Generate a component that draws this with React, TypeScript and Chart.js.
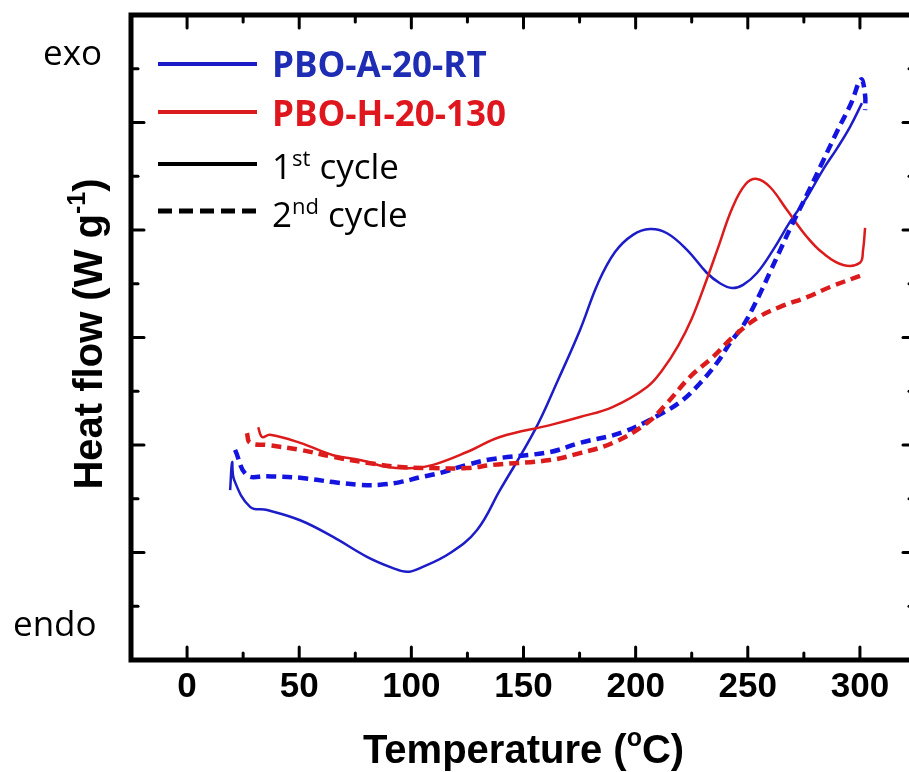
import React, { useEffect, useRef } from 'react';
import { Chart, registerables } from 'chart.js';

Chart.register(...registerables);

// ---- Data ----
const blueSolidT = [19.2, 20.1, 21.0, 28.1, 35.7, 50.4, 65.1, 80.2, 91.8, 98.1, 103.9, 117.3, 129.3, 139.5, 155.1, 165.4, 175.2, 183.2, 190.8, 198.8, 206.4, 214.0, 222.9, 231.8, 237.6, 243.0, 247.9, 254.1, 261.3, 268.8, 276.4, 283.5, 289.8, 295.6, 300.9];
const blueSolidHF = [3.16, 3.68, 3.35, 2.85, 2.79, 2.60, 2.29, 1.92, 1.71, 1.64, 1.71, 1.99, 2.42, 3.16, 4.28, 5.21, 6.14, 7.01, 7.59, 7.91, 8.02, 7.94, 7.63, 7.20, 7.01, 6.92, 6.98, 7.20, 7.63, 8.15, 8.61, 9.12, 9.52, 9.92, 10.36];

const blueDashT = [21.4, 26.7, 35.7, 50.4, 65.1, 77.1, 86.0, 95.0, 103.9, 112.8, 124.8, 136.4, 161.8, 175.2, 194.4, 212.2, 221.1, 228.7, 236.3, 242.1, 247.9, 252.3, 256.4, 260.4, 264.6, 269.0, 276.4, 283.5, 290.0, 296.0, 300.5, 302.3, 302.3];
const blueDashHF = [3.91, 3.44, 3.42, 3.39, 3.31, 3.26, 3.26, 3.31, 3.40, 3.48, 3.63, 3.74, 3.87, 4.04, 4.24, 4.60, 4.84, 5.15, 5.53, 5.90, 6.22, 6.55, 6.90, 7.26, 7.64, 8.04, 8.66, 9.28, 9.85, 10.35, 10.80, 10.51, 10.23];

const redSolidT = [31.7, 33.4, 37.0, 50.4, 65.1, 77.1, 89.2, 100.8, 109.7, 124.8, 139.5, 161.8, 175.2, 189.9, 205.1, 212.0, 219.0, 225.0, 231.0, 237.0, 243.0, 249.0, 254.1, 259.9, 267.5, 276.4, 283.5, 292.5, 300.0, 301.4, 302.3];
const redSolidHF = [4.33, 4.15, 4.19, 4.04, 3.81, 3.72, 3.59, 3.57, 3.63, 3.87, 4.15, 4.37, 4.52, 4.71, 5.08, 5.40, 5.85, 6.35, 7.00, 7.70, 8.40, 8.85, 8.95, 8.80, 8.37, 7.87, 7.57, 7.35, 7.39, 7.63, 8.04];

const redDashT = [26.7, 28.1, 35.7, 50.4, 65.1, 80.2, 95.0, 109.7, 124.8, 136.4, 161.8, 175.2, 189.9, 205.1, 214.0, 224.3, 234.5, 243.4, 254.1, 264.4, 276.4, 286.7, 300.9];
const redDashHF = [4.22, 4.04, 4.00, 3.91, 3.78, 3.67, 3.59, 3.57, 3.57, 3.63, 3.72, 3.85, 4.04, 4.41, 4.78, 5.27, 5.64, 6.01, 6.36, 6.57, 6.75, 6.94, 7.16];

const xMajorTicks = [0, 50, 100, 150, 200, 250, 300];
const xMinorTicks = [25, 75, 125, 175, 225, 275];
const yMajorTicks = [2, 4, 6, 8, 10];
const yMinorTicks = [1, 3, 5, 7, 9, 11];

const seriesNames = ['PBO-A-20-RT', 'PBO-H-20-130'];
const BLUE = '#1c1cc8';
const BLUE_DASH = '#1414e0';
const RED = '#dc1c1c';
const BLUE_TEXT = '#1f2db4';
const RED_TEXT = '#e0161e';

const toPts = (xs: number[], ys: number[]) => xs.map((x, i) => ({ x, y: ys[i] }));

type Seg = { t: string; font: string; dy?: number };

function drawRich(ctx: CanvasRenderingContext2D, segs: Seg[], x: number, y: number, center: boolean) {
  const widths = segs.map((s) => {
    ctx.font = s.font;
    return ctx.measureText(s.t).width;
  });
  const total = widths.reduce((a, b) => a + b, 0);
  let cx = center ? x - total / 2 : x;
  ctx.textAlign = 'left';
  ctx.textBaseline = 'alphabetic';
  segs.forEach((s, i) => {
    ctx.font = s.font;
    ctx.fillText(s.t, cx, y + (s.dy || 0));
    cx += widths[i];
  });
}

const framePlugin = {
  id: 'framePlugin',
  afterDatasetsDraw(chart: any) {
    const ctx: CanvasRenderingContext2D = chart.ctx;
    const { left, right, top, bottom } = chart.chartArea;
    const xs = chart.scales.x;
    const ys = chart.scales.y;
    ctx.save();
    // frame
    ctx.strokeStyle = '#000';
    ctx.lineWidth = 5;
    ctx.strokeRect(left, top, right - left, bottom - top);
    // ticks (inward)
    ctx.lineWidth = 3;
    ctx.lineCap = 'round';
    const tick = (x1: number, y1: number, x2: number, y2: number) => {
      ctx.beginPath();
      ctx.moveTo(x1, y1);
      ctx.lineTo(x2, y2);
      ctx.stroke();
    };
    xMajorTicks.forEach((v) => {
      const p = xs.getPixelForValue(v);
      tick(p, bottom, p, bottom - 13);
      tick(p, top, p, top + 13);
    });
    xMinorTicks.forEach((v) => {
      const p = xs.getPixelForValue(v);
      tick(p, bottom, p, bottom - 7);
      tick(p, top, p, top + 7);
    });
    yMajorTicks.forEach((v) => {
      const p = ys.getPixelForValue(v);
      tick(left, p, left + 13, p);
      tick(right, p, right - 13, p);
    });
    yMinorTicks.forEach((v) => {
      const p = ys.getPixelForValue(v);
      tick(left, p, left + 7, p);
      tick(right, p, right - 7, p);
    });

    // x tick labels
    ctx.fillStyle = '#000';
    ctx.font = 'bold 35px "Liberation Sans"';
    ctx.textAlign = 'center';
    ctx.textBaseline = 'alphabetic';
    xMajorTicks.forEach((v) => {
      ctx.fillText(String(v), xs.getPixelForValue(v), bottom + 37);
    });

    // x title
    const tf = 'bold 40px "Liberation Sans"';
    const sf = 'bold 25px "Liberation Sans"';
    drawRich(ctx, [
      { t: 'Temperature (', font: tf },
      { t: 'o', font: sf, dy: -17 },
      { t: 'C)', font: tf },
    ], (left + right) / 2, bottom + 103, true);

    // y title
    ctx.save();
    ctx.translate(102, 334);
    ctx.rotate(-Math.PI / 2);
    drawRich(ctx, [
      { t: 'Heat flow (W g', font: tf },
      { t: '-1', font: sf, dy: -17 },
      { t: ')', font: tf },
    ], 0, 0, true);
    ctx.restore();

    // exo / endo
    ctx.font = '35px "Open Sans"';
    ctx.textAlign = 'left';
    ctx.fillText('exo', 43, 65);
    ctx.fillText('endo', 13, 636);

    // legend
    const lx1 = 158;
    const lx2 = 257;
    const tx = 272;
    const rows = [
      { y: 64, color: BLUE, dash: [] as number[], w: 4 },
      { y: 112, color: RED, dash: [] as number[], w: 4 },
      { y: 164, color: '#000', dash: [] as number[], w: 4 },
      { y: 211, color: '#000', dash: [14, 7], w: 5 },
    ];
    ctx.lineCap = 'butt';
    rows.forEach((r) => {
      ctx.strokeStyle = r.color;
      ctx.lineWidth = r.w;
      ctx.setLineDash(r.dash);
      ctx.beginPath();
      ctx.moveTo(lx1, r.y);
      ctx.lineTo(lx2, r.y);
      ctx.stroke();
    });
    ctx.setLineDash([]);
    const bf = 'bold 35px "Open Sans"';
    const nf = '35px "Open Sans"';
    const supf = '22px "Open Sans"';
    ctx.fillStyle = BLUE_TEXT;
    drawRich(ctx, [{ t: seriesNames[0], font: bf }], tx, 77, false);
    ctx.fillStyle = RED_TEXT;
    drawRich(ctx, [{ t: seriesNames[1], font: bf }], tx, 126, false);
    ctx.fillStyle = '#000';
    drawRich(ctx, [
      { t: '1', font: nf },
      { t: 'st', font: supf, dy: -13 },
      { t: ' cycle', font: nf },
    ], tx, 179, false);
    drawRich(ctx, [
      { t: '2', font: nf },
      { t: 'nd', font: supf, dy: -13 },
      { t: ' cycle', font: nf },
    ], tx, 227, false);

    ctx.restore();
  },
};

export default function App() {
  const ref = useRef<HTMLCanvasElement | null>(null);
  useEffect(() => {
    if (!ref.current) return;
    const common = { pointRadius: 0, tension: 0.4, fill: false };
    const chart = new Chart(ref.current, {
      type: 'line',
      data: {
        datasets: [
          {
            label: seriesNames[1] + ' 2nd',
            data: toPts(redDashT, redDashHF),
            borderColor: RED,
            borderWidth: 4.5,
            borderDash: [10, 6],
            ...common,
          },
          {
            label: seriesNames[0] + ' 2nd',
            data: toPts(blueDashT, blueDashHF),
            borderColor: BLUE_DASH,
            borderWidth: 4.5,
            borderDash: [10, 6],
            ...common,
          },
          {
            label: seriesNames[1] + ' 1st',
            data: toPts(redSolidT, redSolidHF),
            borderColor: RED,
            borderWidth: 2.5,
            ...common,
          },
          {
            label: seriesNames[0] + ' 1st',
            data: toPts(blueSolidT, blueSolidHF),
            borderColor: BLUE,
            borderWidth: 2.5,
            ...common,
          },
        ],
      },
      options: {
        responsive: false,
        devicePixelRatio: 1,
        animation: false,
        layout: { padding: { left: 131, top: 15, right: 14, bottom: 112 } },
        scales: {
          x: { type: 'linear', min: -25, max: 325, display: false },
          y: { type: 'linear', min: 0, max: 12, display: false },
        },
        plugins: {
          legend: { display: false },
          tooltip: { enabled: false },
        },
      },
      plugins: [framePlugin],
    });
    return () => chart.destroy();
  }, []);

  return (
    <div
      style={{
        position: 'fixed',
        left: 0,
        top: 0,
        width: 909,
        height: 772,
        overflow: 'hidden',
        background: '#fff',
      }}
    >
      <canvas ref={ref} width={930} height={772} style={{ display: 'block', width: 930, height: 772 }} />
    </div>
  );
}
